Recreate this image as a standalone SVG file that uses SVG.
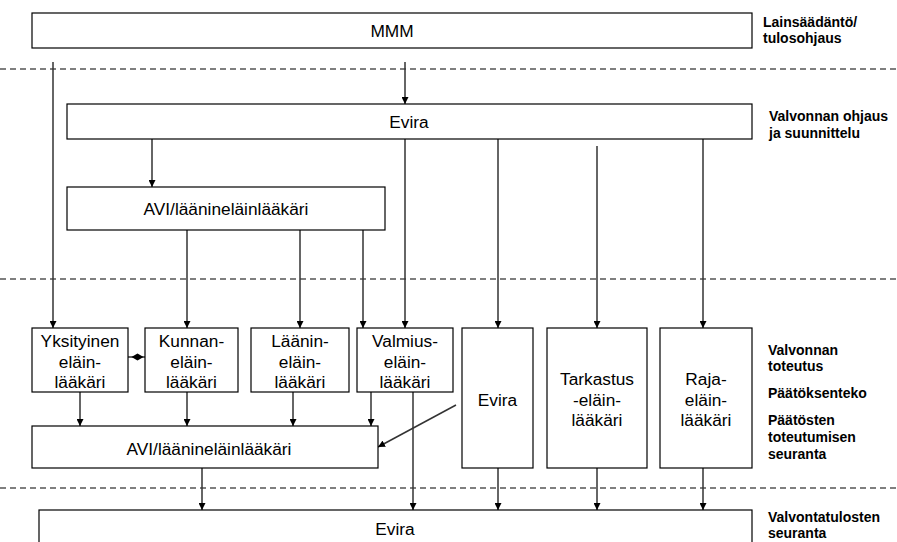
<svg xmlns="http://www.w3.org/2000/svg" width="897" height="542" viewBox="0 0 897 542">
<style>
.box{fill:#fff;stroke:#000;stroke-width:1.2}
.t{font-family:"Liberation Sans",Arial,sans-serif;font-size:17.3px;fill:#000;text-anchor:middle}
.lab{font-family:"Liberation Sans",Arial,sans-serif;font-size:14px;font-weight:bold;fill:#000}
.dash{stroke:#000;stroke-width:1.2;stroke-dasharray:6,4;fill:none}
.c{stroke:#333;stroke-width:1.5;fill:none}
</style>
<defs>
<marker id="ah" viewBox="0 0 10 10" refX="10" refY="5" markerWidth="7" markerHeight="7" markerUnits="userSpaceOnUse" orient="auto">
<path d="M0,0 L10,5 L0,10 z" fill="#000"/>
</marker>
</defs>
<g id="dividers">
<line class="dash" x1="0" y1="69" x2="897" y2="69"/>
<line class="dash" x1="0" y1="279" x2="897" y2="279"/>
<line class="dash" x1="0" y1="488" x2="897" y2="488"/>
</g>
<g id="labels">
<text class="lab" x="763" y="27">Lainsäädäntö/</text>
<text class="lab" x="763" y="43">tulosohjaus</text>
<text class="lab" x="769" y="121">Valvonnan ohjaus</text>
<text class="lab" x="769" y="138">ja suunnittelu</text>
<text class="lab" x="768" y="355">Valvonnan</text>
<text class="lab" x="768" y="371">toteutus</text>
<text class="lab" x="768" y="398">Päätöksenteko</text>
<text class="lab" x="768" y="425">Päätösten</text>
<text class="lab" x="768" y="442">toteutumisen</text>
<text class="lab" x="768" y="459">seuranta</text>
<text class="lab" x="768" y="522">Valvontatulosten</text>
<text class="lab" x="768" y="538">seuranta</text>
</g>
<g id="connectors">
<line class="c" x1="53" y1="62" x2="53" y2="328" marker-end="url(#ah)"/>
<line class="c" x1="405" y1="62" x2="405" y2="104" marker-end="url(#ah)"/>
<line class="c" x1="152" y1="139" x2="152" y2="187" marker-end="url(#ah)"/>
<line class="c" x1="405" y1="139" x2="405" y2="328" marker-end="url(#ah)"/>
<line class="c" x1="498" y1="139" x2="498" y2="328" marker-end="url(#ah)"/>
<line class="c" x1="597" y1="146" x2="597" y2="328" marker-end="url(#ah)"/>
<line class="c" x1="703" y1="139" x2="703" y2="328" marker-end="url(#ah)"/>
<line class="c" x1="187" y1="230" x2="187" y2="328" marker-end="url(#ah)"/>
<line class="c" x1="300" y1="230" x2="300" y2="328" marker-end="url(#ah)"/>
<line class="c" x1="363" y1="230" x2="363" y2="328" marker-end="url(#ah)"/>
<line class="c" x1="80" y1="392" x2="80" y2="426" marker-end="url(#ah)"/>
<line class="c" x1="187" y1="392" x2="187" y2="426" marker-end="url(#ah)"/>
<line class="c" x1="293" y1="392" x2="293" y2="426" marker-end="url(#ah)"/>
<line class="c" x1="371" y1="392" x2="371" y2="426" marker-end="url(#ah)"/>
<line class="c" x1="413" y1="392" x2="413" y2="510" marker-end="url(#ah)"/>
<line class="c" x1="456" y1="405" x2="378" y2="447" marker-end="url(#ah)"/>
<line class="c" x1="202" y1="468" x2="202" y2="510" marker-end="url(#ah)"/>
<line class="c" x1="498" y1="468" x2="498" y2="510" marker-end="url(#ah)"/>
<line class="c" x1="597" y1="468" x2="597" y2="510" marker-end="url(#ah)"/>
<line class="c" x1="703" y1="468" x2="703" y2="510" marker-end="url(#ah)"/>
<line class="c" x1="128" y1="357" x2="145" y2="357"/>
<polygon points="131.5,357 137.5,353.5 143.5,357 137.5,360.5" fill="#000"/>
</g>
<g id="mmm">
<rect class="box" x="32" y="13" width="720" height="35"/>
<text class="t" x="392" y="37">MMM</text>
</g>
<g id="evira-top">
<rect class="box" x="67" y="104" width="685" height="35"/>
<text class="t" x="409" y="128">Evira</text>
</g>
<g id="avi-top">
<rect class="box" x="67" y="187" width="318" height="43"/>
<text class="t" x="226" y="215">AVI/läänineläinlääkäri</text>
</g>
<g id="yksityinen">
<rect class="box" x="32" y="328" width="96" height="64"/>
<text class="t" x="80" y="347">Yksityinen</text>
<text class="t" x="80" y="367.5">eläin-</text>
<text class="t" x="80" y="388">lääkäri</text>
</g>
<g id="kunnan">
<rect class="box" x="145" y="328" width="93" height="64"/>
<text class="t" x="191.5" y="347">Kunnan-</text>
<text class="t" x="191.5" y="367.5">eläin-</text>
<text class="t" x="191.5" y="388">lääkäri</text>
</g>
<g id="laanin">
<rect class="box" x="251" y="328" width="98" height="64"/>
<text class="t" x="300" y="347">Läänin-</text>
<text class="t" x="300" y="367.5">eläin-</text>
<text class="t" x="300" y="388">lääkäri</text>
</g>
<g id="valmius">
<rect class="box" x="357" y="328" width="96" height="64"/>
<text class="t" x="405" y="347">Valmius-</text>
<text class="t" x="405" y="367.5">eläin-</text>
<text class="t" x="405" y="388">lääkäri</text>
</g>
<g id="evira-mid">
<rect class="box" x="462" y="328" width="71" height="140"/>
<text class="t" x="497.5" y="406">Evira</text>
</g>
<g id="tarkastus">
<rect class="box" x="547" y="328" width="100" height="140"/>
<text class="t" x="597" y="385">Tarkastus</text>
<text class="t" x="597" y="406">-eläin-</text>
<text class="t" x="597" y="426">lääkäri</text>
</g>
<g id="raja">
<rect class="box" x="660" y="328" width="92" height="140"/>
<text class="t" x="706" y="385">Raja-</text>
<text class="t" x="706" y="406">eläin-</text>
<text class="t" x="706" y="426">lääkäri</text>
</g>
<g id="avi-bottom">
<rect class="box" x="32" y="426" width="346" height="42"/>
<text class="t" x="209" y="455">AVI/läänineläinlääkäri</text>
</g>
<g id="evira-bottom">
<rect class="box" x="39" y="510" width="713" height="50"/>
<text class="t" x="395" y="535">Evira</text>
</g>
</svg>
